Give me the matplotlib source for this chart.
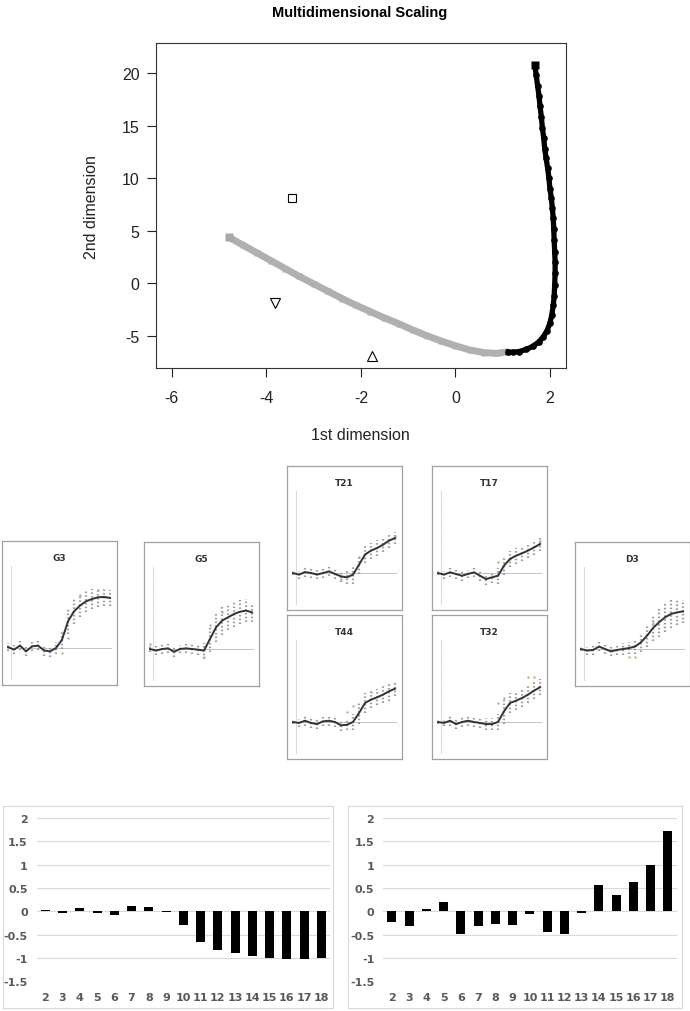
import numpy as np
import matplotlib
matplotlib.use('Agg')
import matplotlib.pyplot as plt

W, H = 690, 1012

# --- MDS trajectories ---
black_x = [1.68, 1.71, 1.74, 1.77, 1.79, 1.82, 1.84, 1.87, 1.89, 1.92, 1.95, 1.98, 2.00, 2.03, 2.05, 2.07,
           2.08, 2.09, 2.10, 2.11, 2.11, 2.10, 2.09, 2.07, 2.04, 2.00, 1.94, 1.86, 1.76, 1.64, 1.50, 1.35, 1.22, 1.12]
black_y = [20.8, 19.8, 18.8, 17.8, 16.9, 15.8, 14.8, 13.8, 12.8, 11.9, 11.0, 10.0, 9.0, 8.1, 7.2, 6.2,
           5.2, 4.1, 3.0, 2.0, 1.0, -0.2, -1.2, -2.1, -3.0, -3.8, -4.5, -5.1, -5.6, -6.0, -6.3, -6.5, -6.58, -6.55]
gray_x = [-4.79, -4.5, -4.2, -3.9, -3.6, -3.3, -3.0, -2.7, -2.4, -2.1, -1.8, -1.5, -1.2, -0.9,
          -0.6, -0.3, 0.0, 0.3, 0.6, 0.87, 1.12]
gray_y = [4.38, 3.65, 2.9, 2.15, 1.4, 0.65, -0.05, -0.75, -1.45, -2.1, -2.7, -3.3, -3.85, -4.45,
          -5.0, -5.5, -5.95, -6.35, -6.6, -6.68, -6.52]
open_square = (-3.45, 8.1)
tri_down = (-3.82, -1.9)
tri_up = (-1.77, -6.9)

# --- small time-course panels: mean line and half-range of the replicate dots ---
g3_line = [0.06, -0.1, 0.15, -0.21, 0.1, 0.15, -0.15, -0.21, 0.0, 0.52, 1.67, 2.29, 2.65, 2.92, 3.06, 3.17, 3.19, 3.13]
g3_spread = [0.25, 0.3, 0.3, 0.3, 0.3, 0.3, 0.35, 0.35, 0.4, 0.6, 0.8, 0.8, 0.7, 0.65, 0.6, 0.6, 0.55, 0.5]
g5_line = [0.0, -0.1, 0.0, 0.04, -0.17, 0.0, 0.04, 0.0, -0.04, -0.1, 0.63, 1.35, 1.77, 1.98, 2.19, 2.33, 2.4, 2.29]
g5_spread = [0.2, 0.3, 0.3, 0.3, 0.3, 0.25, 0.3, 0.3, 0.35, 0.5, 0.8, 0.9, 0.9, 0.8, 0.8, 0.75, 0.7, 0.6]
t21_line = [0.0, -0.1, 0.06, 0.0, -0.1, 0.0, 0.1, -0.06, -0.21, -0.27, -0.1, 0.52, 1.15, 1.4, 1.56, 1.77, 2.02, 2.19]
t21_spread = [0.15, 0.25, 0.3, 0.3, 0.3, 0.3, 0.3, 0.3, 0.35, 0.4, 0.6, 0.6, 0.55, 0.5, 0.5, 0.45, 0.45, 0.4]
t17_line = [0.0, -0.1, 0.04, -0.06, -0.17, -0.06, 0.04, -0.17, -0.38, -0.27, -0.17, 0.46, 0.88, 1.08, 1.23, 1.4, 1.6, 1.81]
t17_spread = [0.15, 0.25, 0.3, 0.3, 0.3, 0.25, 0.3, 0.3, 0.35, 0.35, 0.5, 0.6, 0.5, 0.5, 0.45, 0.45, 0.45, 0.45]
t44_line = [0.0, -0.06, 0.08, -0.06, -0.13, 0.04, 0.08, 0.0, -0.21, -0.17, 0.0, 0.56, 1.19, 1.4, 1.54, 1.71, 1.92, 2.08]
t44_spread = [0.15, 0.25, 0.3, 0.3, 0.3, 0.3, 0.3, 0.3, 0.35, 0.35, 0.5, 0.7, 0.6, 0.55, 0.5, 0.55, 0.6, 0.45]
t32_line = [0.0, -0.06, 0.08, -0.13, 0.0, 0.08, 0.0, -0.06, -0.13, -0.13, 0.0, 0.67, 1.19, 1.33, 1.5, 1.71, 1.96, 2.17]
t32_spread = [0.15, 0.2, 0.3, 0.3, 0.3, 0.3, 0.3, 0.3, 0.35, 0.35, 0.5, 0.8, 0.6, 0.6, 0.55, 0.55, 0.55, 0.5]
d3_line = [0.0, -0.1, -0.06, 0.15, 0.0, -0.15, -0.06, 0.0, 0.06, 0.15, 0.42, 0.83, 1.31, 1.67, 1.98, 2.19, 2.29, 2.35]
d3_spread = [0.15, 0.25, 0.3, 0.3, 0.3, 0.3, 0.3, 0.35, 0.35, 0.45, 0.6, 0.7, 0.8, 0.9, 0.9, 0.85, 0.8, 0.7]

# a few tan outliers visible in the panels (index, value)
g3_tan = [(9, -0.3), (10, 0.6), (12, 3.3), (15, 3.6)]
g5_tan = [(0, 0.3), (9, -0.5), (10, 1.5), (12, 2.3)]
t21_tan = [(8, -0.4), (11, 1.0), (17, 2.3)]
t17_tan = [(10, 0.7), (12, 0.9), (17, 2.0)]
t44_tan = [(9, 0.6), (10, 1.0), (13, 1.9)]
t32_tan = [(10, 1.2), (11, 1.5), (15, 2.8), (16, 2.8)]
d3_tan = [(8, -0.5), (9, -0.5), (12, 1.6)]

# --- bar charts ---
bar_cats = ['2', '3', '4', '5', '6', '7', '8', '9', '10', '11', '12', '13', '14', '15', '16', '17', '18']
left_vals = [0.03, -0.03, 0.08, -0.03, -0.07, 0.12, 0.09, -0.02, -0.29, -0.65, -0.82, -0.89, -0.96, -1.0, -1.02, -1.02, -0.99]
right_vals = [-0.22, -0.31, 0.06, 0.21, -0.49, -0.32, -0.27, -0.29, -0.06, -0.45, -0.48, -0.04, 0.57, 0.35, 0.62, 0.99, 1.72]
bar_yticks = [-1.5, -1, -0.5, 0, 0.5, 1, 1.5, 2]
bar_yticklabels = ['-1.5', '-1', '-0.5', '0', '0.5', '1', '1.5', '2']


def px_axes(fig, x0, y0, x1, y1):
	"""Axes from pixel box (top-left origin)."""
	return fig.add_axes([x0 / W, 1 - y1 / H, (x1 - x0) / W, (y1 - y0) / H])


plt.rcParams['font.family'] = ['Liberation Sans', 'DejaVu Sans']
plt.rcParams['axes.unicode_minus'] = False
fig = plt.figure(figsize=(W / 100, H / 100), dpi=100)

"""
Top: multidimensional scaling
"""
ax = px_axes(fig, 155.7, 44.3, 566, 369)
ax.plot(gray_x, gray_y, color='#b0b0b0', lw=5, solid_capstyle='butt', zorder=2)
ax.plot(gray_x, gray_y, 's', color='#b0b0b0', ms=4, mec='none', zorder=2)
ax.plot(gray_x[0], gray_y[0], 's', color='#a8a8a8', ms=6, mec='none', zorder=2)
ax.plot(black_x, black_y, color='black', lw=3.8, zorder=3)
ax.plot(black_x, black_y, 'o', color='black', ms=4.8, mec='none', zorder=3)
ax.plot(black_x[0], black_y[0], 's', color='black', ms=6, mec='none', zorder=4)
ax.plot(*open_square, 's', mfc='none', mec='black', ms=6, mew=0.8)
ax.plot(*tri_down, 'v', mfc='none', mec='black', ms=7, mew=0.8)
ax.plot(*tri_up, '^', mfc='none', mec='black', ms=7, mew=0.8)
ax.set_xlim(-6.34, 2.34)
ax.set_ylim(-8.07, 22.86)
ax.set_xticks([-6, -4, -2, 0, 2])
ax.set_yticks([-5, 0, 5, 10, 15, 20])
ax.tick_params(axis='x', direction='out', length=6.5, width=0.8, labelsize=11.5, pad=9.5, colors='#222222')
ax.tick_params(axis='y', direction='out', length=6.5, width=0.8, labelsize=11.5, pad=5, colors='#222222')
for s in ax.spines.values():
	s.set_linewidth(0.8)
	s.set_color('#333333')
fig.text(360 / W, 1 - 13 / H, 'Multidimensional Scaling', ha='center', va='center',
		 fontsize=10.5, fontweight='bold')
fig.text(360 / W, 1 - 435 / H, '1st dimension', ha='center', va='center', fontsize=11.5, color='#222222')
fig.text(92 / W, 1 - 207 / H, '2nd dimension', ha='center', va='center', rotation=90,
		 fontsize=11.5, color='#222222')

"""
Middle: time-course thumbnails
"""
panels = [
	('G3', 2, 542, g3_line, g3_spread, g3_tan),
	('G5', 144, 543, g5_line, g5_spread, g5_tan),
	('T21', 287, 467, t21_line, t21_spread, t21_tan),
	('T17', 432, 467, t17_line, t17_spread, t17_tan),
	('T44', 287, 616, t44_line, t44_spread, t44_tan),
	('T32', 432, 616, t32_line, t32_spread, t32_tan),
	('D3', 575, 543, d3_line, d3_spread, d3_tan),
]
for name, x0, y0, line, spread, tan in panels:
	box = px_axes(fig, x0, y0, x0 + 115, y0 + 144)
	box.set_xticks([])
	box.set_yticks([])
	for s in box.spines.values():
		s.set_color('#a0a0a0')
		s.set_linewidth(0.9)
	box.text(0.5, 0.888, name, transform=box.transAxes, ha='center', va='center',
			 fontsize=6.5, fontweight='bold', color='#333333', family=['DejaVu Sans'])

	inner = px_axes(fig, x0 + 5, y0 + 25, x0 + 110, y0 + 139)
	inner.axis('off')
	n = len(line)
	xs = np.arange(n)
	inner.set_xlim(-0.17, n - 1 + 0.33)
	inner.set_ylim(-2, 5.125)
	inner.axhline(0, color='#c4c4c4', lw=0.7, zorder=1)
	inner.plot([0.5, 0.5], [-2, 5.125], color='#dadada', lw=0.7, zorder=1)
	inner.hlines(np.arange(-2, 6), 0.3, 0.5, color='#dadada', lw=0.6)
	lo = np.array(line) - np.array(spread)
	hi = np.array(line) + np.array(spread)
	inner.vlines(xs, lo, hi, colors='#9c9c9c', lw=1.6, linestyles=(0, (0.7, 1.0)), zorder=2)
	inner.scatter([t[0] for t in tan], [t[1] for t in tan], s=3, color='#d2a878', lw=0, zorder=2)
	inner.plot(xs, line, color='#333333', lw=1.4, zorder=3)

"""
Bottom: bar charts
"""
for (bx0, bx1, ax0, ax1, vals) in [(3.3, 333.3, 36.7, 330, left_vals),
								   (348.3, 682, 383.3, 676.5, right_vals)]:
	box = px_axes(fig, bx0, 807.3, bx1, 1009)
	box.set_xticks([])
	box.set_yticks([])
	for s in box.spines.values():
		s.set_color('#d9d9d9')
		s.set_linewidth(0.8)

	bax = px_axes(fig, ax0, 819, ax1, 982.3)
	bax.bar(np.arange(len(bar_cats)), vals, width=0.52, color='black', zorder=3)
	bax.set_xlim(-0.5, len(bar_cats) - 0.5)
	bax.set_ylim(-1.5, 2)
	bax.set_xticks(np.arange(len(bar_cats)))
	bax.set_xticklabels(bar_cats)
	bax.set_yticks(bar_yticks)
	bax.set_yticklabels(bar_yticklabels)
	bax.grid(axis='y', color='#d9d9d9', lw=0.8)
	bax.set_axisbelow(True)
	for s in bax.spines.values():
		s.set_visible(False)
	bax.tick_params(length=0, labelsize=8, labelcolor='#595959')
	bax.tick_params(axis='x', pad=7.5)
	bax.tick_params(axis='y', pad=6.5)
	for lab in bax.get_xticklabels() + bax.get_yticklabels():
		lab.set_fontweight('bold')
		lab.set_family(['DejaVu Sans'])

plt.savefig('out.png', dpi=100)
